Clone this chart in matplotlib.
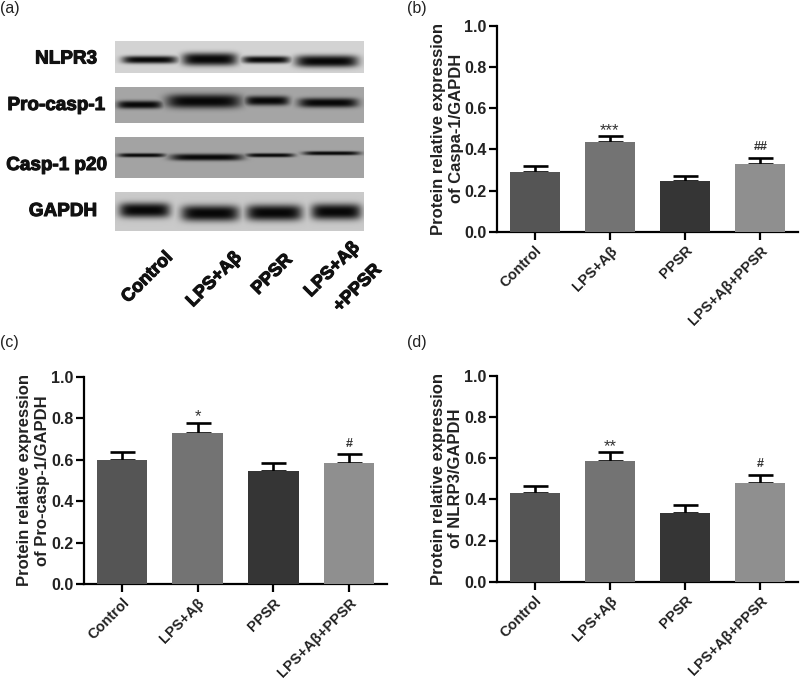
import numpy as np
import matplotlib
matplotlib.use('Agg')
import matplotlib.pyplot as plt
import matplotlib.patheffects as pe
from matplotlib.transforms import ScaledTranslation

plt.rcParams['font.family'] = ['Liberation Sans', 'DejaVu Sans']

categories = ['Control', 'LPS+Aβ', 'PPSR', 'LPS+Aβ+PPSR']
bar_colors = ['#555555', '#737373', '#353535', '#8f8f8f']

caspa_vals = [0.29, 0.435, 0.248, 0.33]
caspa_errs = [0.03, 0.032, 0.025, 0.03]
caspa_marks = ['', '***', '', '##']

pro_vals = [0.597, 0.727, 0.547, 0.585]
pro_errs = [0.04, 0.052, 0.038, 0.04]
pro_marks = ['', '*', '', '#']

nlrp_vals = [0.43, 0.585, 0.335, 0.48]
nlrp_errs = [0.035, 0.045, 0.035, 0.04]
nlrp_marks = ['', '**', '', '#']

yticks = [0.0, 0.2, 0.4, 0.6, 0.8, 1.0]

# Western blot strips
blot_labels = ['NLPR3', 'Pro-casp-1', 'Casp-1 p20', 'GAPDH']
blot_label_right = [97, 105, 107, 97]
blot_label_y = [59, 105.5, 165.5, 211.5]
blot_boxes = [(115, 364, 41.5, 73.5), (115, 364, 87, 123), (115, 364, 137, 178), (115, 364, 192, 231)]
blot_bg = [0.83, 0.65, 0.64, 0.79]
blot_bands = [
    [(122, 177, 60, 3.8), (182, 237, 59.5, 6.4), (242, 290, 60, 3.6), (295, 358, 61.5, 6)],
    [(117, 162, 104.5, 4), (166, 241, 101, 7), (245, 289, 100.5, 4.8), (298, 358, 102.5, 4.8)],
    [(118, 165, 155, 2), (170, 243, 157, 3.4), (246, 294, 155, 2), (303, 360, 153, 2)],
    [(119, 170, 210, 7.5), (181, 239, 213, 8), (246, 302, 212.5, 8), (311, 361, 211.5, 8)],
]
blot_xlabels = ['Control', 'LPS+Aβ', 'PPSR', 'LPS+Aβ', '+PPSR']
blot_xlabel_x = [164, 233, 284, 351, 373]
blot_xlabel_y = [249, 249, 251, 239, 261]

W, H = 800, 681
fig = plt.figure(figsize=(W / 100, H / 100), dpi=100)
TXT = '#222222'


def panel(x0, x1, ytop, ybot, vals, errs, marks, ylabel):
    ax = fig.add_axes([x0 / W, 1 - ybot / H, (x1 - x0) / W, (ybot - ytop) / H])
    x = np.arange(len(vals))
    ax.bar(x, vals, width=0.665, color=bar_colors, zorder=3)
    ax.errorbar(x, vals, yerr=[np.zeros(len(errs)), errs], fmt='none', ecolor='black',
                elinewidth=1.9, capsize=9, capthick=1.9, zorder=2)
    for xi, v, e, m in zip(x, vals, errs, marks):
        if '*' in m:
            ax.text(xi, v + e - 0.01, m, ha='center', va='bottom', fontsize=12, color='#333333')
        elif m:
            ax.text(xi, v + e + 0.022, m, ha='center', va='bottom', fontsize=9, color='#333333',
                    fontweight='bold')
    ax.set_xlim(-0.5, 3.5)
    ax.set_ylim(0, 1)
    ax.set_yticks(yticks)
    ax.set_yticklabels([f'{t:.1f}' for t in yticks], fontsize=11.5, fontweight='bold', color=TXT)
    ax.set_xticks(x)
    ax.set_xticklabels(categories, rotation=45, ha='right', rotation_mode='anchor',
                       fontsize=10.5, fontweight='bold', color=TXT)
    shift = ScaledTranslation(-3 / 100, 0, fig.dpi_scale_trans)
    for lab in ax.get_xticklabels():
        lab.set_transform(lab.get_transform() + shift)
    ax.tick_params(axis='y', width=1.6, length=6, pad=1.5)
    ax.tick_params(axis='x', width=1.6, length=6, pad=2.5)
    for s in ['top', 'right']:
        ax.spines[s].set_visible(False)
    for s in ['left', 'bottom']:
        ax.spines[s].set_linewidth(1.6)
    ax.set_ylabel(ylabel, fontsize=12, fontweight='bold', color=TXT, linespacing=1.25, va='center', ha='center')
    ax.yaxis.set_label_coords(-50 / (x1 - x0), 0.5)
    return ax


panel(497, 798, 26, 231.7, caspa_vals, caspa_errs, caspa_marks,
      'Protein relative expression\nof Caspa-1/GAPDH')
panel(84, 387, 376.7, 584, pro_vals, pro_errs, pro_marks,
      'Protein relative expression\nof Pro-casp-1/GAPDH')
panel(497, 798, 375.7, 581.7, nlrp_vals, nlrp_errs, nlrp_marks,
      'Protein relative expression\nof NLRP3/GAPDH')

# Blot panel in pixel coordinates
bax = fig.add_axes([0, 0, 1, 1], zorder=-1)
stroke = [pe.withStroke(linewidth=0.8, foreground='#111111')]
for box, bg, bands in zip(blot_boxes, blot_bg, blot_bands):
    x0, x1, y0, y1 = box
    X, Y = np.meshgrid(np.arange(x0, x1, 0.5), np.arange(y0, y1, 0.5))
    dark = np.zeros_like(X)
    for bx0, bx1, by, bh in bands:
        cx, hw = (bx0 + bx1) / 2, (bx1 - bx0) / 2
        ex = np.exp(-(np.abs(X - cx) / hw) ** 6)
        ey = np.exp(-(np.abs(Y - by) / bh) ** 2.6)
        dark = np.maximum(dark, ex * ey)
    img = bg * (1 - dark) + 0.03 * dark
    bax.imshow(img, extent=(x0, x1, y1, y0), cmap='gray', vmin=0, vmax=1, aspect='auto', zorder=1)
bax.set_xlim(0, W)
bax.set_ylim(H, 0)
bax.axis('off')

for lab, rx, ly in zip(blot_labels, blot_label_right, blot_label_y):
    bax.text(rx, ly, lab, ha='right', va='center', fontsize=13.6, fontweight='bold', color='#111111',
             path_effects=stroke, zorder=2)

for t, lx, ly in zip(blot_xlabels, blot_xlabel_x, blot_xlabel_y):
    bax.text(lx, ly, t, rotation=45, rotation_mode='anchor', ha='right', va='top', fontsize=13,
             fontweight='bold', color='#111111', path_effects=stroke, zorder=2)

for t, lx, ly in [('(a)', 0, 8), ('(b)', 407, 8), ('(c)', 0, 343), ('(d)', 407, 343)]:
    bax.text(lx, ly, t, ha='left', va='center', fontsize=11.5, color=TXT)

fig.savefig('out.png', dpi=100)
